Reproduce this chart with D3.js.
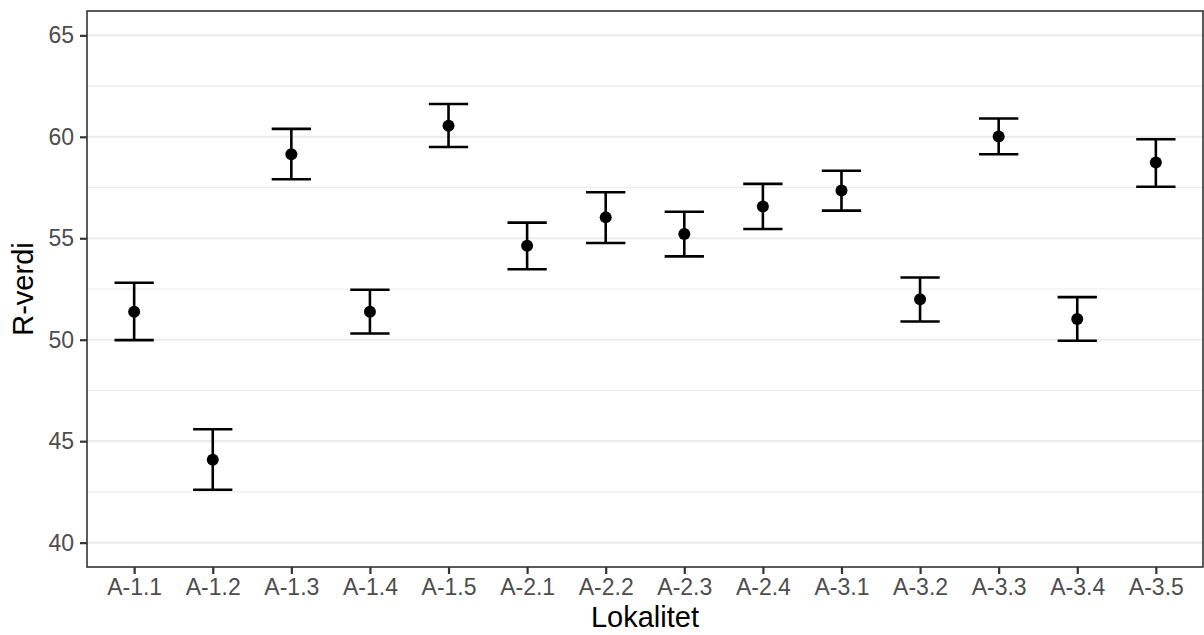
<!DOCTYPE html>
<html>
<head>
<meta charset="utf-8">
<script src="https://cdn.jsdelivr.net/npm/d3@7"></script>
<style>
  html, body { margin: 0; padding: 0; background: #fff; }
  svg { display: block; font-family: "Liberation Sans", Arial, Helvetica, sans-serif; }
</style>
</head>
<body>
<svg id="chart" width="1204" height="635"></svg>
<script>
const categories = ["A-1.1","A-1.2","A-1.3","A-1.4","A-1.5","A-2.1","A-2.2","A-2.3","A-2.4","A-3.1","A-3.2","A-3.3","A-3.4","A-3.5"];
const means = [51.38, 44.09, 59.14, 51.38, 60.55, 54.63, 56.03, 55.21, 56.56, 57.35, 52.00, 60.01, 51.02, 58.73];
const upper = [52.81, 45.59, 60.39, 52.46, 61.62, 55.77, 57.27, 56.31, 57.68, 58.33, 53.07, 60.90, 52.10, 59.88];
const lower = [49.98, 42.61, 57.91, 50.31, 59.50, 53.47, 54.77, 54.11, 55.46, 56.36, 50.90, 59.14, 49.95, 57.54];
const yMajorTicks = [40, 45, 50, 55, 60, 65];
const yMinorTicks = [42.5, 47.5, 52.5, 57.5, 62.5];
const yDomain = [38.8, 66.2];
const xTitle = "Lokalitet";
const yTitle = "R-verdi";

const data = categories.map((c, i) => ({ cat: c, mean: means[i], lo: lower[i], hi: upper[i] }));

const svg = d3.select("#chart");
const panel = { left: 87, top: 11, right: 1203, bottom: 567 };

const x = d3.scalePoint().domain(categories)
  .range([panel.left, panel.right]).padding(0.6);
const y = d3.scaleLinear().domain(yDomain).range([panel.bottom, panel.top]);
const step = x.step();

// minor grid
svg.append("g").selectAll("line").data(yMinorTicks).join("line")
  .attr("x1", panel.left).attr("x2", panel.right)
  .attr("y1", d => y(d)).attr("y2", d => y(d))
  .attr("stroke", "#ebebeb").attr("stroke-width", 1.1);
// major grid
svg.append("g").selectAll("line").data(yMajorTicks).join("line")
  .attr("x1", panel.left).attr("x2", panel.right)
  .attr("y1", d => y(d)).attr("y2", d => y(d))
  .attr("stroke", "#ebebeb").attr("stroke-width", 2.2);

// error bars
const eb = svg.append("g").attr("stroke", "#000").attr("stroke-width", 2.6).attr("fill", "none");
const capW = step * 0.5;
eb.selectAll(".v").data(data).join("line").attr("class", "v")
  .attr("x1", d => x(d.cat)).attr("x2", d => x(d.cat))
  .attr("y1", d => y(d.lo)).attr("y2", d => y(d.hi));
eb.selectAll(".t").data(data).join("line").attr("class", "t")
  .attr("x1", d => x(d.cat) - capW / 2).attr("x2", d => x(d.cat) + capW / 2)
  .attr("y1", d => y(d.hi)).attr("y2", d => y(d.hi));
eb.selectAll(".b").data(data).join("line").attr("class", "b")
  .attr("x1", d => x(d.cat) - capW / 2).attr("x2", d => x(d.cat) + capW / 2)
  .attr("y1", d => y(d.lo)).attr("y2", d => y(d.lo));

// points
svg.append("g").selectAll("circle").data(data).join("circle")
  .attr("cx", d => x(d.cat)).attr("cy", d => y(d.mean))
  .attr("r", 6).attr("fill", "#000");

// panel border
svg.append("rect")
  .attr("x", panel.left).attr("y", panel.top)
  .attr("width", panel.right - panel.left).attr("height", panel.bottom - panel.top)
  .attr("fill", "none").attr("stroke", "#333333").attr("stroke-width", 1.6);

// axes
const yAxis = d3.axisLeft(y).tickValues(yMajorTicks).tickSize(7).tickPadding(6).tickFormat(d3.format("d"));
const gy = svg.append("g").attr("transform", `translate(${panel.left},0)`).call(yAxis);
gy.select(".domain").remove();
gy.selectAll(".tick line").attr("stroke", "#333333").attr("stroke-width", 2.2);
gy.selectAll(".tick text").attr("fill", "#4d4d4d").attr("font-size", 23)
  .attr("font-family", "Liberation Sans, Arial, sans-serif");

const xAxis = d3.axisBottom(x).tickSize(7).tickPadding(5);
const gx = svg.append("g").attr("transform", `translate(0,${panel.bottom})`).call(xAxis);
gx.select(".domain").remove();
gx.selectAll(".tick line").attr("stroke", "#333333").attr("stroke-width", 2.2);
gx.selectAll(".tick text").attr("fill", "#4d4d4d").attr("font-size", 23)
  .attr("font-family", "Liberation Sans, Arial, sans-serif");

// titles
svg.append("text")
  .attr("x", (panel.left + panel.right) / 2).attr("y", 626.5)
  .attr("text-anchor", "middle").attr("font-size", 29).attr("fill", "#000")
  .text(xTitle);
svg.append("text")
  .attr("transform", `translate(33,${(panel.top + panel.bottom) / 2}) rotate(-90)`)
  .attr("text-anchor", "middle").attr("font-size", 29).attr("fill", "#000")
  .text(yTitle);
</script>
</body>
</html>
